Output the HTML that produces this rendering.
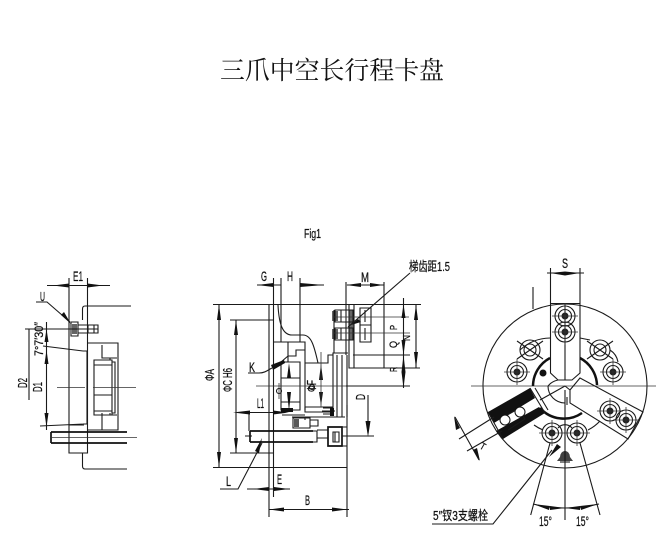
<!DOCTYPE html>
<html><head><meta charset="utf-8"><style>
html,body{margin:0;padding:0;background:#fff}
svg{display:block}
text{font-family:"Liberation Sans","Noto Sans CJK SC",sans-serif;fill:#111;stroke:#111;stroke-width:.25}
.l{stroke:#1a1a1a;stroke-width:1.1;fill:none}
.t{stroke:#111;stroke-width:1.7;fill:none}
.n{stroke:#333;stroke-width:.8;fill:none}
.k{fill:#111;stroke:none}
</style></head><body>
<svg width="662" height="555" viewBox="0 0 662 555" xmlns="http://www.w3.org/2000/svg">
<defs>
<g id="b"><circle r="10" class="l"/><circle r="6.500" class="l"/><circle r="3.500" fill="#222"/><path class="n" d="M-13 0H13M0-13V13"/></g>
<g id="x"><circle r="10" class="l"/><circle r="6" class="l"/><path class="l" d="M-13-9L13 9M-13 9L13-9"/></g>
</defs>
<text x="220" y="79" textLength="224" lengthAdjust="spacingAndGlyphs" style="font-family:'Noto Serif CJK SC','Noto Sans CJK SC',serif;font-size:25px;stroke:none">三爪中空长行程卡盘</text>
<text x="304" y="238" font-size="13" textLength="17" lengthAdjust="spacingAndGlyphs">Fig1</text>

<!-- LEFT VIEW -->
<path class="l" d="M47 285.500H110M69 278V453H87.500V278M82.500 320V309Q82.500 306 85 306H131M82.500 453V466Q82.500 469 85 469H127"/>
<path class="k" d="M53 285.500L69 283.500V287.500ZM103 285.500L87.500 283.500V287.500Z"/>
<path class="l" d="M25 329H98M71 322H78V336H71ZM78 325H98V333H78ZM88 325V333M94 325V333"/>
<path class="k" d="M72 324H77V334H72Z" opacity=".65"/>
<path class="l" d="M36 302H47L70 322"/><path class="k" d="M61 315L64 312L71 324Z"/>
<path class="l" d="M29 329V400M46.500 322V430"/>
<path class="k" d="M46.500 329L44.500 342H48.500ZM46.500 350L44.500 364H48.500ZM46.500 427L44.500 413H48.500Z"/>
<path class="l" d="M43 346L83 351M40 426L84 424M83 351H87V424H83M69 425H84"/>
<path class="l" d="M88 343H118V430H88M102 345V358H110V360M110 358H117M102 413V430M110 413V415H117"/>
<path class="l" d="M94 360H112V415H94ZM94 365H112M94 395H112M94 411H112M112 362H115V413H112"/>
<path class="t" d="M51 432H127M51 443H127M51 432V443"/><path class="n" d="M52 437.500H137"/>
<path class="n" d="M57 387.500H85M93 387.500H136"/>
<text x="73" y="281" font-size="14" textLength="10" lengthAdjust="spacingAndGlyphs">E1</text>
<text x="40" y="301" font-size="13" textLength="5" lengthAdjust="spacingAndGlyphs">U</text>
<text transform="translate(43 356) rotate(-90)" font-size="12" textLength="34" lengthAdjust="spacingAndGlyphs">7°7′30″</text>
<text transform="translate(27 388) rotate(-90)" font-size="13" textLength="10" lengthAdjust="spacingAndGlyphs">D2</text>
<text transform="translate(42 392) rotate(-90)" font-size="13" textLength="10" lengthAdjust="spacingAndGlyphs">D1</text>

<!-- MIDDLE VIEW -->
<path class="l" d="M213 304.500H421M213 467.500H347M269 304.500V517M273.500 278V497M281 278V342M300 278V342M347 405V517"/>
<path class="l" d="M257 285H281M300 285H324"/>
<path class="k" d="M257 285L273.500 283V287ZM324 285L300 283V287Z"/>
<path class="l" d="M278 305C279 325 283 335 292 335H303C311 335 314 345 318 363"/>
<path class="l" d="M273.500 342H305V410M288 342V362M281 362H300V410H281ZM281 378H300M281 402H300M281 362L288 356H296V350H305"/>
<path class="l" d="M230 320H273M219 304.500V467.500M236 320V453M230 453H273"/>
<path class="k" d="M219 304.500L217 320H221ZM219 467.500L217 452H221ZM236 320L234 335H238ZM236 453L234 438H238Z"/>
<path class="l" d="M248 373H259C265 373 268 370 272 368"/><path class="k" d="M271 365L284 360L285 363L273 370Z"/>
<path class="k" d="M289 363L287 378H291ZM289 411L287 392H291Z"/>
<path class="k" d="M281 408H293V412H281Z"/>
<path class="l" d="M305 363H328V355H333V353H348M333 363H333M333 355V407H305M337 355V417M342 355V417M347 355V417M305 407V412H333"/>
<path class="k" d="M321 364L319 380H323ZM321 406L319 392H323Z"/>
<path class="n" d="M256 386H400M321 352V407M279 383V399"/>
<circle cx="279" cy="391" r="2.500" class="l"/><circle cx="312" cy="387" r="2.500" class="l"/>
<path class="l" d="M249 412V431M240 412.500H282M282 415H305M292 417H305V420M305 417H345"/>
<path class="k" d="M233 412.500L250 410.500V414.500ZM289 412.500L273 410.500V414.500Z"/>
<path class="l" d="M293 418H310V428H293ZM310 420H318V426H310ZM293 428H300"/><path class="k" d="M294 419H299V427H294Z" opacity=".7"/>
<path class="l" d="M322 411H335M323 408H333V414H323"/><path class="k" d="M330 408H334V416H330Z"/>
<path class="t" d="M250 431H313M250 442H313M250 431V442"/><path class="l" d="M313 431H317V442H313M245 436H252M317 430H328M317 438H328"/>
<path class="t" d="M328 427H342V446H328Z"/><path class="l" d="M333 432H339V442H333ZM335 432V442M342 427H347M342 446H347M342 436H374"/>
<path class="l" d="M368 395V433"/><path class="k" d="M368 437L365.500 421H370.500Z"/>
<path class="l" d="M220 489H238L262 443"/><path class="k" d="M262 438L255 451L259 453Z"/>
<path class="l" d="M247 489H290"/><path class="k" d="M253 489L269 487V491ZM289 489L274 487V491Z"/>
<path class="l" d="M269 509.500H349"/><path class="k" d="M269 509.500L284 507.500V511.500ZM347 509.500L332 507.500V511.500Z"/>
<text x="261" y="281" font-size="14" textLength="6" lengthAdjust="spacingAndGlyphs">G</text>
<text x="287" y="281" font-size="14" textLength="6" lengthAdjust="spacingAndGlyphs">H</text>
<text x="361" y="282" font-size="14" textLength="8" lengthAdjust="spacingAndGlyphs">M</text>
<text transform="translate(214 381) rotate(-90)" font-size="13" textLength="12" lengthAdjust="spacingAndGlyphs">ΦA</text>
<text transform="translate(232 392) rotate(-90)" font-size="13" textLength="24" lengthAdjust="spacingAndGlyphs">ΦC H6</text>
<text x="249" y="372" font-size="14" textLength="6" lengthAdjust="spacingAndGlyphs">K</text>
<text transform="translate(316 392) rotate(-90)" font-size="13" textLength="12" lengthAdjust="spacingAndGlyphs">ΦF</text>
<text x="257" y="408" font-size="14" textLength="7" lengthAdjust="spacingAndGlyphs">L1</text>
<text x="226" y="486" font-size="14" textLength="5" lengthAdjust="spacingAndGlyphs">L</text>
<text x="277" y="484" font-size="14" textLength="5" lengthAdjust="spacingAndGlyphs">E</text>
<text x="305" y="505" font-size="14" textLength="5" lengthAdjust="spacingAndGlyphs">B</text>
<text transform="translate(365 400) rotate(-90)" font-size="13" textLength="6" lengthAdjust="spacingAndGlyphs">D</text>

<!-- Upper right detail -->
<path class="l" d="M346 282V355M384 282V368M347 285H384"/>
<path class="l" d="M334 310V353H347M354 305V368M349 305V368H420M335 310H353V322H335ZM335 328H353V340H335ZM341 310V322M341 328V340M360 308H371V342H360ZM360 325H371M365 310V322M365 328V340"/>
<path class="k" d="M346 285L361 283V287ZM384 285L370 283V287Z"/>
<path class="k" d="M332 311H338V321H332ZM332 329H338V339H332ZM349 310H354V340H349Z" opacity=".65"/>
<path class="n" d="M333 317H409M333 333H410"/>
<path class="l" d="M353 355H410M346 386H410"/>
<path class="l" d="M410 273L348 327"/><path class="k" d="M351 325L358 319L361 322Z"/>
<path class="l" d="M403.500 298V388M416 305V368"/>
<path class="k" d="M403.500 304L401.500 318H405.500ZM403.500 355L401.500 340H405.500ZM403.500 355L401.500 372H405.500ZM403.500 388L401.500 372H405.500ZM416 304.500L414 320H418ZM416 368L414 352H418Z"/>
<text x="409" y="271" font-size="13" textLength="41" lengthAdjust="spacingAndGlyphs">梯齿距1.5</text>
<text transform="translate(397 330) rotate(-90)" font-size="10" textLength="5" lengthAdjust="spacingAndGlyphs">P</text>
<text transform="translate(397 348) rotate(-90)" font-size="11" textLength="7" lengthAdjust="spacingAndGlyphs">Q</text>
<text transform="translate(410 341) rotate(-90)" font-size="10" textLength="6" lengthAdjust="spacingAndGlyphs">N</text>
<text transform="translate(397 372) rotate(-90)" font-size="10" textLength="5" lengthAdjust="spacingAndGlyphs">R</text>

<!-- RIGHT VIEW -->
<circle cx="565" cy="386" r="82" class="l"/>
<path class="n" d="M471 386H656"/><path class="l" d="M565 303V380M565 390V520M533 287V309"/>
<path class="l" d="M550.500 268V373L558 380H572L580 373V268M550 303.500H580M547 273H584"/>
<path class="k" d="M550 273L565 271.500L580 273L565 275.500Z"/>
<text x="562" y="268" font-size="14" textLength="6" lengthAdjust="spacingAndGlyphs">S</text>
<path d="M533 386A32 32 0 0 1 550 358M580 358A32 32 0 0 1 597 385" fill="none" stroke="#111" stroke-width="2.500"/>
<path d="M540 408A32 32 0 0 0 582 413" fill="none" stroke="#111" stroke-width="2.500"/>
<path class="l" d="M548 386A17 17 0 0 0 565 403M558 380A17 17 0 0 0 548 386"/>
<circle cx="543" cy="373" r="3.500" class="k"/>
<use href="#b" x="565" y="316"/><use href="#b" x="565" y="332"/>
<use href="#x" x="530" y="350"/><use href="#b" x="517" y="372"/>
<use href="#x" x="600" y="350"/><use href="#b" x="613" y="372"/>
<use href="#b" x="552" y="433"/><use href="#b" x="577" y="433"/>
<use href="#b" x="610" y="411"/><use href="#b" x="626" y="420"/>
<path class="l" d="M520 350A45 45 0 0 1 550 338M580 338L590 340M610 350A18 18 0 0 1 618 362M534 425A45 45 0 0 0 543 430M588 430A42 42 0 0 0 600 421M558 428A9 9 0 0 1 572 428"/>
<path class="k" d="M488 412L530 388L535 398L494 423ZM496 431L539 407L545 413L503 439Z"/>
<path class="l" d="M488 412L503 439M530 388L545 413M535 388L548 410M502 418L518 409L525 419L508 430"/>
<circle cx="505" cy="420" r="5" fill="#fff" stroke="#111"/><circle cx="520" cy="412" r="5" fill="#fff" stroke="#111"/>
<path class="l" d="M565 386L540 400"/>
<path class="l" d="M580 378L643 412L628 439L570 403V390ZM565 386L570 390M567 397V405"/>
<path class="l" d="M459 439L494 417M467 451L502 431M455 417L479 460"/>
<path class="k" d="M454 416L460 428L456 430ZM480 461L473 450L477 448Z"/>
<text transform="translate(479 448) rotate(30)" font-size="10" textLength="5" lengthAdjust="spacingAndGlyphs">T</text>
<path class="k" d="M560 457A5 6 0 0 1 570 457L573 461H557Z" opacity=".8"/><path class="l" d="M560 462H570"/>
<path class="l" d="M432 524H493L552 450"/>
<path class="k" d="M549 457L557 444L561 447Z"/>
<path class="l" d="M530.700 515L550 443M600 515L580 443"/>
<path class="l" d="M533 504Q548 508 565 508Q582 508 599 504"/>
<path class="k" d="M533 504L550 506L549 510ZM565 508L550 506V510ZM565 508L580 506V510ZM598 504L580 506L581 510Z"/>
<text x="433" y="520" font-size="13" textLength="55" lengthAdjust="spacingAndGlyphs">5″钗3支螺栓</text>
<text x="539" y="526" font-size="14" textLength="13" lengthAdjust="spacingAndGlyphs">15°</text>
<text x="576" y="526" font-size="14" textLength="13" lengthAdjust="spacingAndGlyphs">15°</text>
</svg>
</body></html>
